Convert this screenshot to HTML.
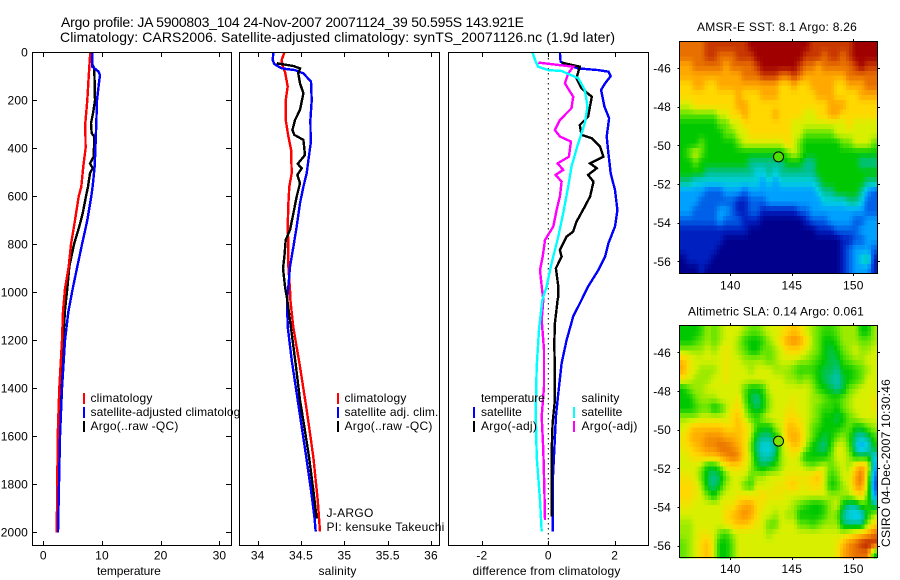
<!DOCTYPE html>
<html lang="en">
<head>
<meta charset="utf-8">
<title>Argo profile 5900803_104</title>
<style>
html,body{margin:0;padding:0;background:#fff;}
svg{display:block;font-family:"Liberation Sans",Arial,sans-serif;fill:#000;}
text{font-size:12px;letter-spacing:.15px;}
.title{font-size:14px;letter-spacing:0;}
.small{font-size:12px;}
</style>
</head>
<body>
<svg id="figure" xmlns="http://www.w3.org/2000/svg" width="900" height="580" viewBox="0 0 900 580">
  <rect x="0" y="0" width="900" height="580" fill="#fff"/>
  <text class="title" x="61" y="27" textLength="463" lengthAdjust="spacing">Argo profile: JA 5900803_104 24-Nov-2007 20071124_39 50.595S 143.921E</text>
  <text class="title" x="60" y="42" textLength="555" lengthAdjust="spacing">Climatology: CARS2006. Satellite-adjusted climatology: synTS_20071126.nc (1.9d later)</text>

  <g id="panel-temp">
    <g id="temp-lines"></g>
    <rect x="32.5" y="52.5" width="199" height="493" fill="none" stroke="#000"/>
    <g id="temp-ticks"></g>
    <text x="97" y="575" textLength="64" lengthAdjust="spacing">temperature</text>
    <rect x="83" y="393" width="2" height="11" fill="#ff0000"/>
    <rect x="83" y="407" width="2" height="11" fill="#0000ff"/>
    <rect x="83" y="421" width="2" height="11" fill="#000"/>
    <text x="90.5" y="402" textLength="62" lengthAdjust="spacing">climatology</text>
    <text x="90.5" y="416" textLength="156" lengthAdjust="spacing">satellite-adjusted climatology</text>
    <text x="90.5" y="430" textLength="88" lengthAdjust="spacing">Argo(..raw -QC)</text>
  </g>

  <g id="panel-sal">
    <rect x="239" y="52" width="201" height="494" fill="#fff"/>
    <g id="sal-lines"></g>
    <rect x="239.5" y="52.5" width="200" height="493" fill="none" stroke="#000"/>
    <g id="sal-ticks"></g>
    <text x="318.5" y="575" textLength="38" lengthAdjust="spacing">salinity</text>
    <rect x="337" y="393" width="2" height="11" fill="#ff0000"/>
    <rect x="337" y="407" width="2" height="11" fill="#0000ff"/>
    <rect x="337" y="421" width="2" height="11" fill="#000"/>
    <text x="344.5" y="402" textLength="62" lengthAdjust="spacing">climatology</text>
    <text x="344.5" y="416" textLength="94" lengthAdjust="spacing">satellite adj. clim.</text>
    <text x="344.5" y="430" textLength="88" lengthAdjust="spacing">Argo(..raw -QC)</text>
    <text x="326.5" y="517" textLength="47" lengthAdjust="spacing">J-ARGO</text>
    <text x="326.5" y="531" textLength="118" lengthAdjust="spacing">PI: kensuke Takeuchi</text>
  </g>

  <g id="panel-diff">
    <rect x="448" y="52" width="201" height="494" fill="#fff"/>
    <line id="zero-line" y1="53" y2="545" stroke="#000" stroke-dasharray="1.5 3.5"/>
    <g id="diff-lines"></g>
    <rect x="448.5" y="52.5" width="200" height="493" fill="none" stroke="#000"/>
    <g id="diff-ticks"></g>
    <text x="472.5" y="575" textLength="148" lengthAdjust="spacing">difference from climatology</text>
    <text x="481" y="402" textLength="64" lengthAdjust="spacing">temperature</text>
    <text x="481" y="416" textLength="41" lengthAdjust="spacing">satellite</text>
    <text x="481" y="430" textLength="56" lengthAdjust="spacing">Argo(-adj)</text>
    <rect x="473" y="407" width="2" height="11" fill="#0000ff"/>
    <rect x="473" y="421" width="2" height="11" fill="#000"/>
    <text x="581.5" y="402" textLength="38" lengthAdjust="spacing">salinity</text>
    <text x="581.5" y="416" textLength="41" lengthAdjust="spacing">satellite</text>
    <text x="581.5" y="430" textLength="56" lengthAdjust="spacing">Argo(-adj)</text>
    <rect x="573" y="407" width="2" height="11" fill="#00ffff"/>
    <rect x="573" y="421" width="2" height="11" fill="#ff00ff"/>
  </g>

  <g id="map-sst">
    <text x="697" y="31" textLength="160" lengthAdjust="spacing">AMSR-E SST: 8.1 Argo: 8.26</text>
    <g id="sst-cells"></g>
    <rect x="679.5" y="41.5" width="198" height="232" fill="none" stroke="#000"/>
    <g id="sst-ticks"></g>
    <circle id="sst-float" r="5" stroke="#000" fill="#50e000"/>
  </g>

  <g id="map-sla">
    <text x="688" y="315.5" textLength="176" lengthAdjust="spacing">Altimetric SLA: 0.14 Argo: 0.061</text>
    <g id="sla-cells"></g>
    <rect x="679.5" y="325.5" width="198" height="232" fill="none" stroke="#000"/>
    <g id="sla-ticks"></g>
    <circle id="sla-float" r="5" stroke="#000" fill="#80e000"/>
  </g>

  <text transform="translate(890,547) rotate(-90)" textLength="168" lengthAdjust="spacing">CSIRO 04-Dec-2007 10:30:46</text>
</svg>

<script>
// ---------- profile data ----------
const depthTicks = [0,200,400,600,800,1000,1200,1400,1600,1800,2000];
const tempTicks = [0,10,20,30];
const salTicks = [34,34.5,35,35.5,36];
const salTickLabels = ['34','34.5','35','35.5','36'];
const diffTicks = [-2,0,2];
const lonTicks = [140,145,150];
const latTicks = [-46,-48,-50,-52,-54,-56];
const floatLon = 143.921;
const floatLat = -50.595;

const tempClimDepth = [0,60,199,296,400,475,560,600,700,800,893,985,1080,1200,1400,1600,1800,2000];
const tempClimValue = [8.0,7.84,7.5,7.16,7.2,6.82,6.48,6.03,5.4,4.72,4.32,3.7,3.35,3.18,2.73,2.45,2.39,2.28];
const tempSatDepth = [0,60,80,95,137,200,295,400,475,560,600,700,800,893,985,1080,1200,1400,1600,1800,2000];
const tempSatValue = [8.35,8.35,9.4,9.66,9.43,9.15,9.03,8.87,8.75,8.4,8.18,7.5,6.6,5.8,5.0,4.27,3.7,3.18,2.84,2.67,2.5];
const tempArgoDepth = [53,67,200,254,296,338,351,435,463,483,504,560,600,671,726,800,893,986,1073,1198,1400,1601,1796,1950];
const tempArgoValue = [8.41,8.69,8.81,8.47,8.13,8.24,8.69,8.58,7.96,8.41,7.96,7.62,7.27,6.71,6.14,5.23,4.43,4.09,3.7,3.41,2.9,2.62,2.45,2.39];

const salClimDepth = [0,32,60,81,143,199,282,351,407,504,560,629,726,810,893,990,1032,1143,1310,1490,1685,1865,1997];
const salClimValue = [34.308,34.277,34.288,34.315,34.346,34.323,34.323,34.354,34.385,34.392,34.365,34.354,34.346,34.354,34.354,34.373,34.377,34.41,34.488,34.565,34.642,34.692,34.719];
const salSatDepth = [0,32,49,67,74,88,122,199,282,379,449,504,560,629,726,810,893,976,1032,1143,1282,1421,1560,1699,1824,1935,1997];
const salSatValue = [34.181,34.173,34.192,34.277,34.431,34.527,34.615,34.623,34.608,34.612,34.585,34.565,34.527,34.488,34.45,34.412,34.373,34.354,34.338,34.346,34.392,34.45,34.508,34.565,34.615,34.654,34.669];
const salArgoDepth = [46,57,67,88,129,171,240,282,324,344,365,428,465,483,511,546,601,671,740,782,851,900,976,1032,1171,1310,1449,1560,1685,1824,1942];
const salArgoValue = [34.219,34.412,34.488,34.469,34.488,34.527,34.488,34.431,34.4,34.423,34.527,34.546,34.462,34.508,34.458,34.488,34.45,34.412,34.373,34.323,34.308,34.292,34.315,34.342,34.392,34.442,34.488,34.538,34.592,34.642,34.681];

const diffTempSatDepth = [0,39,49,67,74,81,99,129,157,226,275,351,421,504,574,657,726,796,851,907,976,1032,1101,1199,1296,1421,1518,1657,1796,1997];
const diffTempSatValue = [.35,.37,.5,.9,1.51,1.81,1.88,1.71,1.59,1.69,1.83,1.76,1.81,1.88,2.01,2.08,2.01,1.81,1.71,1.51,1.2,1.0,.75,.55,.4,.3,.23,.18,.13,.13];
const diffTempArgoDepth = [43,60,108,150,185,268,303,344,358,393,435,463,483,511,539,601,643,706,747,768,824,851,900,976,1018,1032,1129,1213,1338,1449,1546,1671,1935];
const diffTempArgoValue = [.4,.95,.85,1,1.31,1.2,.95,1,1.31,1.56,1.66,1.26,1.46,1.2,1.36,1.26,1.1,.85,.75,.55,.35,.4,.23,.3,.3,.28,.2,.18,.2,.2,.13,.1,.1];
const diffSalArgoDepth = [43,60,88,129,185,233,282,324,351,372,435,463,490,511,539,601,657,726,782,851,907,976,1032,1115,1240,1393,1518,1657,1810,1949];
const diffSalArgoValue = [-.3,.75,.6,.5,.75,.7,.35,.2,.35,.68,.62,.28,.45,.22,.4,.35,.25,.15,-.1,-.17,-.25,-.2,-.15,-.2,-.13,-.13,-.2,-.15,-.12,-.1];
const diffSalSatDepth = [0,39,60,74,78,108,157,226,296,379,476,560,671,768,879,976,1032,1157,1310,1490,1685,1865,1997];
const diffSalSatValue = [-.48,-.38,-.3,0,.4,.9,1.1,1.18,1.1,.9,.7,.6,.45,.3,.1,-.05,-.18,-.28,-.35,-.38,-.35,-.25,-.2];

// ---------- map data: colour level per 0.5 degree cell, north to south ----------
const sstLevels = [
[11,11,11,11,12,12,12,12,12,12,12,13,13,13,13,13,13,13,13,13,13,12,12,12,12,12,12,12,13,13,13,13],
[11,11,11,11,12,12,11,11,11,12,12,12,13,13,13,13,13,13,13,13,12,12,12,11,12,12,11,12,13,13,13,13],
[10,10,11,11,11,11,11,10,11,11,11,11,12,13,13,13,13,13,13,12,11,11,10,11,11,11,11,11,12,13,12,12],
[10,10,10,10,10,10,10,10,10,10,11,11,11,12,12,12,11,11,12,11,10,10,10,10,10,10,10,11,11,11,11,11],
[9,9,10,10,9,9,10,10,10,10,10,10,10,10,10,10,9,9,10,9,9,10,10,10,10,9,9,10,10,10,11,11],
[9,9,9,9,9,9,9,9,9,10,9,9,9,10,10,10,9,9,9,9,9,9,10,10,10,9,9,9,9,10,10,10],
[8,8,9,9,9,9,9,9,9,10,10,9,9,9,9,9,9,9,9,9,9,9,9,9,10,10,10,9,9,9,9,9],
[7,7,7,7,7,7,8,8,9,9,10,9,9,9,9,10,9,9,9,9,8,8,9,9,10,10,9,9,9,9,9,9],
[6,6,6,6,6,6,7,7,8,8,9,9,9,9,9,9,9,9,8,8,8,8,8,8,8,8,8,9,8,8,8,8],
[6,6,6,6,6,6,6,7,7,8,8,9,9,9,9,9,9,9,8,8,7,7,7,7,7,8,8,8,8,8,8,8],
[6,6,6,7,6,6,6,6,6,7,8,8,8,8,8,8,8,9,8,7,6,6,6,6,6,6,7,7,8,8,8,7],
[6,7,8,7,6,6,6,6,6,6,6,6,6,6,6,6,6,7,8,7,6,6,6,6,6,6,6,6,6,6,6,6],
[6,6,7,6,6,6,6,6,6,6,6,5,5,5,5,5,5,6,6,6,5,5,6,6,6,6,6,6,6,5,5,5],
[6,6,6,6,5,5,5,5,5,5,5,5,4,4,5,4,5,5,5,5,5,5,6,6,6,6,6,6,6,6,6,6],
[5,5,4,4,4,4,4,4,4,4,4,4,4,3,4,3,4,4,4,4,4,4,5,6,6,6,6,6,6,6,5,5],
[3,3,3,3,2,2,2,3,3,3,2,3,3,3,3,3,3,3,3,3,3,3,4,5,5,6,6,6,6,5,3,2],
[3,3,3,2,2,2,2,2,2,1,1,2,2,2,3,3,3,3,3,3,3,3,3,4,4,4,4,5,5,4,2,2],
[3,3,2,2,2,2,3,3,2,1,1,2,2,1,1,1,1,1,1,2,2,3,3,3,3,3,3,3,3,3,2,2],
[2,2,2,2,2,2,3,2,2,2,1,1,1,0,0,0,0,0,0,0,1,2,2,2,3,3,3,3,2,2,3,3],
[1,1,1,1,1,1,1,1,1,1,1,0,0,0,0,0,0,0,0,0,0,0,1,1,1,2,2,2,2,3,3,3],
[1,1,1,1,1,1,1,0,0,0,0,0,0,0,0,0,0,0,0,0,0,0,0,0,0,0,1,1,2,2,3,3],
[1,1,1,1,1,1,0,0,0,0,0,0,0,0,0,0,0,0,0,0,0,0,0,0,0,0,1,2,3,3,3,2],
[0,1,1,1,1,0,0,0,0,0,0,0,0,0,0,0,0,0,0,0,0,0,0,0,0,0,1,2,3,4,5,1],
[0,0,0,1,0,0,0,0,0,0,0,0,0,0,0,0,0,0,0,0,0,0,0,0,0,0,1,2,3,3,3,1]
];
const slaLevels = [
[6,6,6,6.5,7.5,7,7.5,8,8,8,7.5,7,7,7.5,8,8,8.5,9,9.5,9,8,7.5,7,6.5,6.5,7,7.5,7.5,7.5,6,6,7.5],
[6,6,6.5,7,7.5,7,7.5,8,8,7.5,6.5,6,6,6.5,7.5,8,9,10,10.5,10,9,7.5,7,6,6,6.5,7.5,7.5,7.5,7,7,7.5],
[7.5,7.5,7.5,7.5,8,7.5,8,8.5,8,7.5,7,6,6,7,7,7.5,8,9,9,9,8,7.5,7,6,5.5,6,7,7.5,8,7.5,7.5,8],
[9.5,8.5,8,8,8,8,8,8.5,8,8,7.5,7.5,7.5,7.5,7,7.5,8,8,8,7.5,7.5,7,6.5,6,5.5,5.5,6.5,7,7.5,7.5,8,8],
[10,8.5,8,7.5,7.5,7.5,8,8.5,8,8,8,7.5,8,8,8,7.5,7.5,7.5,7,6.5,6.5,6.5,6,5.5,5.5,5,6,6,6.5,7,7.5,8],
[8.5,8,7.5,7.5,7.5,8,8,8.5,8,8,8,8,8,8,8,8,8,7.5,7.5,7,7.5,7,6,5.5,5,4.5,5.5,6,6.5,7,8,8],
[6,7,7.5,7.5,8,8,8,8,8,8,7,6,6,6.5,8,8,8,8,8,8,8,7.5,6.5,6,5.5,5,5.5,7,7.5,8,8,8],
[6,6,7,7.5,7.5,7.5,8,8,8,8.5,7,5.5,5,6,7.5,8,8,8,8.5,8,8,7.5,7.5,7,6.5,6.5,7,7.5,8,8,8,8.5],
[6,6,6.5,7,7,6,6.5,7.5,8.5,9,7.5,6,5.5,6,7.5,8,8,8.5,8.5,8,8,7.5,7,6.5,6.5,6,7,7.5,8,8,8,8.5],
[7.5,7.5,7.5,8,8,8,8,8,9,9.5,8,7,6.5,7.5,8,8,8,9,9,8.5,8,7.5,7,6,6,5.5,6,7,7.5,8,8,8],
[8,9,9.5,9.5,9.5,9.5,9.5,9,9,9.5,9,8,6.5,6,6,7.5,8,9.5,9.5,9,8,7,6.5,6,6,6,6.5,7,6,6,7,7.5],
[8.5,9.5,10,10,10.5,10.5,10.5,10,10,9.5,9,7.5,5.5,5,5,6,7.5,9.5,10,9.5,8,7,6,5.5,6,7,7.5,6.5,5,4.5,5,6.5],
[8.5,9,9.5,10,10.5,10.5,11,11,10.5,10,9,7,5,4,4,5,7.5,8.5,9.5,9,7.5,6,5.5,5,6.5,8,8,7,4.5,3,4,6],
[8,8.5,9,9,9.5,9.5,10,10.5,11,10.5,9,7.5,5.5,4.5,4.5,5.5,7.5,8,8.5,7.5,6,6,6,6,7,8,8,7.5,6,6,6,4],
[8,8,8,7.5,6,6,7,8.5,9,9,8.5,7.5,6,5.5,6,6.5,7.5,8,8,8,7.5,7,7.5,8,7,7.5,8,7.5,9,10,9,3.5],
[8.5,8.5,8,7,5.5,5,5.5,7,8,8,8,7,7.5,7.5,8,8,8,8.5,8.5,8.5,8.5,9,9.5,8,6.5,7,8,8,10,11,8,2.5],
[9,9,8.5,7.5,5.5,5,6,7.5,8,8,7,6.5,8,8,8,8.5,8.5,9,9.5,8.5,8.5,9,9,8,6,6.5,7.5,8,10,10.5,7.5,2],
[9,9,8.5,8,7,6,7.5,8,8,8.5,8.5,8.5,8.5,9,8.5,8.5,8.5,8,8,8,8,8,8,8,7.5,7.5,7.5,7.5,8.5,9,7,3],
[8.5,8.5,8,8,8,8,8,8.5,8.5,9.5,10,10,9,8.5,8,8,8,8,7.5,7,6.5,6,6,6.5,7.5,8,6,5,5,6.5,6.5,5],
[8,8,8,8,8,8,8,9,9.5,10,10.5,10,9,8,8,7.5,8,7.5,7.5,6,6,6,6,6.5,7.5,7,5,4,3.5,4,6,7.5],
[7.5,7.5,8,8,8,8,8,8.5,9,9.5,9.5,9,8.5,8,7,7,8,8,8,7,7,6.5,7,7.5,7.5,7.5,5.5,5,5,5,7.5,9],
[7.5,7.5,8,8.5,8.5,8,7,6.5,7.5,8,8,8,8,8,7.5,8,8,8,8,8,8,8,8,8,8,8,8,8.5,9,9.5,10,11],
[7,7.5,8,9,9.5,8,6,6,7,8,8,8,8,8,8,8,8,8,8,8,8,8,8,8,8,8.5,9.5,10.5,11,12,12.5,12],
[7,7.5,8,9,9.5,8,6,6,7,8,8,8,8,8,8,8,8,8,8,8,8,8,8,8,8,8.5,10,10.5,11,11,11,6]
];
const colormapStops = ['#00008c','#0020c0','#0060e8','#00a0ff','#00d0e0','#00c090','#00c800','#60e400','#d8f000','#ffd800','#ffa800','#e87000','#c83800','#a00000'];

// ---------- axis functions ----------
const depthY = d => 52.3 + 0.24 * d;
const tempX = t => 43.3 + 5.87 * t;
const salX = s => 257.7 + 86.65 * (s - 34);
const diffX = v => 548.3 + 33.2 * v;
const lonX = lon => 730.3 + 12.3 * (lon - 140);
const sstLatY = lat => 68 + 19.33 * (-46 - lat);
const slaLatY = lat => 352.3 + 19.33 * (-46 - lat);
const cellStartLon = 135.92;
const cellStartLat = -44.65;
const cellDeg = 0.5;
const cellSplit = 2;

const NS = 'http://www.w3.org/2000/svg';
function make(parent, tag, attrs) {
  const el = document.createElementNS(NS, tag);
  for (const k in attrs) el.setAttribute(k, attrs[k]);
  parent.appendChild(el);
  return el;
}
function levelColor(level) {
  const c = Math.max(0, Math.min(colormapStops.length - 1, level));
  const lo = Math.floor(c), hi = Math.ceil(c), f = c - lo;
  const parse = h => [1, 3, 5].map(i => parseInt(h.substr(i, 2), 16));
  const a = parse(colormapStops[lo]), b = parse(colormapStops[hi]);
  return 'rgb(' + a.map((v, i) => Math.round(v + (b[i] - v) * f)).join(',') + ')';
}
function sampleLevel(levels, col, row) {
  const rows = levels.length, cols = levels[0].length;
  const r = Math.max(0, Math.min(rows - 1, row));
  const c = Math.max(0, Math.min(cols - 1, col));
  const r0 = Math.floor(r), r1 = Math.min(rows - 1, r0 + 1), fr = r - r0;
  const c0 = Math.floor(c), c1 = Math.min(cols - 1, c0 + 1), fc = c - c0;
  const top = levels[r0][c0] * (1 - fc) + levels[r0][c1] * fc;
  const bot = levels[r1][c0] * (1 - fc) + levels[r1][c1] * fc;
  return top * (1 - fr) + bot * fr;
}
function drawLine(groupId, depths, values, xFn, color, name) {
  const pts = depths.map((d, i) => xFn(values[i]).toFixed(1) + ',' + depthY(d).toFixed(1)).join(' ');
  const el = make(document.getElementById(groupId), 'polyline', {
    points: pts, fill: 'none', stroke: color, 'stroke-width': 2.4, 'shape-rendering': 'crispEdges'
  });
  
  
}
function tickLine(group, x1, y1, x2, y2) {
  const el = make(group, 'line', { x1: x1, y1: y1, x2: x2, y2: y2, stroke: '#000', 'shape-rendering': 'crispEdges' });
  
  
}
function tickText(group, x, y, anchor, str) {
  const el = make(group, 'text', { x: x, y: y, 'text-anchor': anchor });
  el.textContent = str;
  
  
}
function profileTicks(groupId, ticks, labels, xFn) {
  const g = document.getElementById(groupId);
  ticks.forEach((t, i) => {
    const x = Math.round(xFn(t)) + 0.5;
    tickLine(g, x, 52, x, 57);
    tickLine(g, x, 541, x, 546);
    tickText(g, xFn(t), 559.5, 'middle', labels[i]);
  });
}
function drawMap(cellsId, ticksId, levels, latY, top, bottom, labelY, name) {
  const cells = document.getElementById(cellsId);
  const nRows = levels.length * cellSplit, nCols = levels[0].length * cellSplit;
  const step = cellDeg / cellSplit;
  for (let j = 0; j < nRows; j++) {
    for (let i = 0; i < nCols; i++) {
      const lvl = sampleLevel(levels, (i + 0.5) / cellSplit - 0.5, (j + 0.5) / cellSplit - 0.5);
      const x0 = lonX(cellStartLon + i * step);
      const x1 = Math.min(lonX(cellStartLon + (i + 1) * step), 876.5);
      const y0 = latY(cellStartLat - j * step);
      const y1 = latY(cellStartLat - (j + 1) * step);
      const rect = make(cells, 'rect', {
        x: x0.toFixed(2), y: y0.toFixed(2),
        width: (x1 - x0 + 0.3).toFixed(2), height: (y1 - y0 + 0.3).toFixed(2),
        fill: levelColor(lvl), 'shape-rendering': 'crispEdges'
      });
      
      
    }
  }
  const g = document.getElementById(ticksId);
  lonTicks.forEach(lon => {
    const x = Math.round(lonX(lon)) + 0.5;
    tickLine(g, x, top - 2, x, top);
    tickLine(g, x, bottom, x, bottom + 2);
    tickText(g, lonX(lon), labelY, 'middle', String(lon));
  });
  latTicks.forEach(lat => {
    const y = Math.round(latY(lat)) + 0.5;
    tickLine(g, 677.5, y, 679.5, y);
    tickLine(g, 877.5, y, 880, y);
    tickText(g, 671, latY(lat) + 4.5, 'end', String(lat));
  });
}

// ---------- temperature ----------
drawLine('temp-lines', tempArgoDepth, tempArgoValue, tempX, '#000000', 'temperature-argo-line');
drawLine('temp-lines', tempClimDepth, tempClimValue, tempX, '#ff0000', 'temperature-climatology-line');
drawLine('temp-lines', tempSatDepth, tempSatValue, tempX, '#0000ff', 'temperature-satellite-line');
profileTicks('temp-ticks', tempTicks, tempTicks.map(String), tempX);
depthTicks.forEach(d => {
  const g = document.getElementById('temp-ticks');
  const y = Math.round(depthY(d)) + 0.5;
  tickLine(g, 32, y, 37, y);
  tickLine(g, 226, y, 231, y);
  tickText(g, 28, depthY(d) + 4, 'end', String(d));
});

// ---------- salinity ----------
drawLine('sal-lines', salClimDepth, salClimValue, salX, '#ff0000', 'salinity-climatology-line');
drawLine('sal-lines', salSatDepth, salSatValue, salX, '#0000ff', 'salinity-satellite-line');
drawLine('sal-lines', salArgoDepth, salArgoValue, salX, '#000000', 'salinity-argo-line');
profileTicks('sal-ticks', salTicks, salTickLabels, salX);

// ---------- differences ----------
document.getElementById('zero-line').setAttribute('x1', diffX(0));
document.getElementById('zero-line').setAttribute('x2', diffX(0));
drawLine('diff-lines', diffTempSatDepth, diffTempSatValue, diffX, '#0000ff', 'difference-temperature-satellite-line');
drawLine('diff-lines', diffTempArgoDepth, diffTempArgoValue, diffX, '#000000', 'difference-temperature-argo-line');
drawLine('diff-lines', diffSalArgoDepth, diffSalArgoValue, diffX, '#ff00ff', 'difference-salinity-argo-line');
drawLine('diff-lines', diffSalSatDepth, diffSalSatValue, diffX, '#00ffff', 'difference-salinity-satellite-line');
profileTicks('diff-ticks', diffTicks, diffTicks.map(String), diffX);

// ---------- maps ----------
drawMap('sst-cells', 'sst-ticks', sstLevels, sstLatY, 41, 274, 289.5, 'sst-cell');
drawMap('sla-cells', 'sla-ticks', slaLevels, slaLatY, 325, 558, 573, 'sla-cell');
document.getElementById('sst-float').setAttribute('cx', lonX(floatLon));
document.getElementById('sst-float').setAttribute('cy', sstLatY(floatLat));
document.getElementById('sla-float').setAttribute('cx', lonX(floatLon));
document.getElementById('sla-float').setAttribute('cy', slaLatY(floatLat));
</script>
</body>
</html>
